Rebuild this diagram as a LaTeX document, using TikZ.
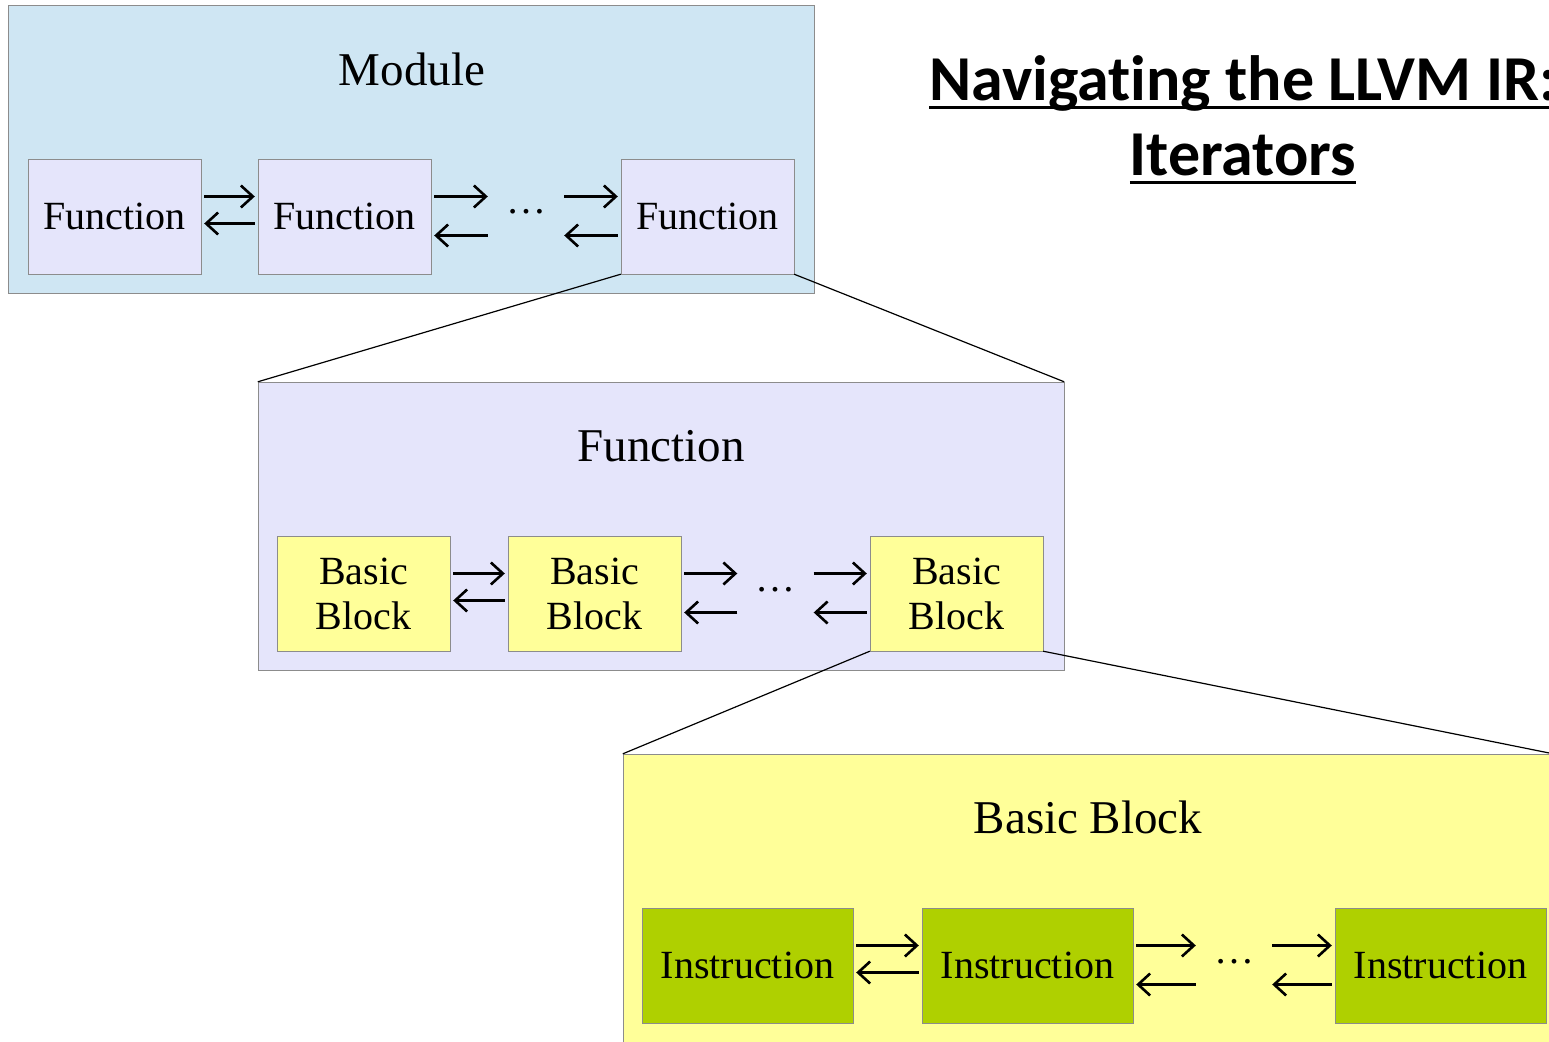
\documentclass[tikz,border=0pt]{standalone}
\usepackage{fontspec}
\setmainfont{Liberation Serif}
\newfontfamily\titlefont[Ligatures=NoCommon]{Carlito}
\usetikzlibrary{arrows.meta}
\definecolor{modblue}{RGB}{207,230,243}
\definecolor{funclav}{RGB}{229,229,251}
\definecolor{bbyellow}{RGB}{255,255,153}
\definecolor{instgreen}{RGB}{175,208,0}
\definecolor{edge}{RGB}{140,140,140}
\newsavebox\ulbox
\newcommand{\ultext}[1]{\sbox\ulbox{#1}\rlap{\usebox\ulbox}\rule[-8.5pt]{\wd\ulbox}{3pt}}

\begin{document}
\begin{tikzpicture}[x=1pt,y=-1pt]
\tikzstyle{nav}=[-{Straight Barb[length=12pt,width=22pt]},line width=2.6pt,shorten <=3pt,shorten >=3pt]
\tikzset{level/.style={draw=edge,fill=#1,minimum width=806,minimum height=288,inner sep=0},
item/.style={draw=edge,fill=#1,minimum width=173,minimum height=115,inner sep=0,
  font=\fontsize{40}{45}\selectfont,align=center},
gap/.style={minimum width=70,inner sep=0,font=\fontsize{40}{45}\selectfont},
heading/.style={anchor=base,font=\fontsize{47}{56}\selectfont},
zoomline/.style={line width=1.2pt}}
\path[fill=white,use as bounding box] (0,0) rectangle (1549,1041);

% module
\node[level=modblue] (module) at (411.5,149) {};
\node[heading] (modlbl) at (412,85) {Module};
\node[item=funclav] (f1) at (114.5,216.5) {Function};
\node[item=funclav] (f2) at (344.5,216.5) {Function};
\node[item=funclav] (f3) at (707.5,216.5) {Function};
\node[gap] (fd) at (526,212) {\dots};

% function
\node[level=funclav] (function) at (661,526) {};
\node[heading] (funclbl) at (661,461) {Function};
\node[item=bbyellow] (b1) at (363.5,593.5) {Basic\\Block};
\node[item=bbyellow] (b2) at (594.5,593.5) {Basic\\Block};
\node[item=bbyellow] (b3) at (956.5,593.5) {Basic\\Block};
\node[gap] (bd) at (775.5,590) {\dots};

% basic block
\node[level=bbyellow,minimum width=930] (block) at (1088,898) {};
\node[heading] (blocklbl) at (1088,833) {Basic Block};
\node[item=instgreen,minimum width=211] (i1) at (747.5,965.5) {Instruction};
\node[item=instgreen,minimum width=211] (i2) at (1027.5,965.5) {Instruction};
\node[item=instgreen,minimum width=211] (i3) at (1440.5,965.5) {Instruction};
\node[gap] (id) at (1234,962) {\dots};

% iterators
\foreach \row in {f,b,i} {
  \draw[nav] ([yshift=20pt]\row 1.east) -- ([yshift=20pt]\row 2.west);
  \draw[nav] ([yshift=-7pt]\row 2.west) -- ([yshift=-7pt]\row 1.east);
  \draw[nav] ([yshift=20pt]\row 2.east) -- ([yshift=20pt]\row 2.east -| \row d.west);
  \draw[nav] ([yshift=-19pt]\row 2.east -| \row d.west) -- ([yshift=-19pt]\row 2.east);
  \draw[nav] ([yshift=20pt]\row 3.west -| \row d.east) -- ([yshift=20pt]\row 3.west);
  \draw[nav] ([yshift=-19pt]\row 3.west) -- ([yshift=-19pt]\row 3.west -| \row d.east);
}

% zoom lines
\draw[zoomline] (f3.south west) -- (function.north west);
\draw[zoomline] (f3.south east) -- (function.north east);
\draw[zoomline] (b3.south west) -- (block.north west);
\draw[zoomline] (b3.south east) -- (block.north east);

% title
\node[anchor=base,font=\titlefont\bfseries\fontsize{64}{75}\selectfont] (title1) at (1243,100) {\ultext{Navigating the LLVM IR:}};
\node[anchor=base,font=\titlefont\bfseries\fontsize{64}{75}\selectfont] (title2) at (1243,175) {\ultext{Iterators}};
\end{tikzpicture}
\end{document}
